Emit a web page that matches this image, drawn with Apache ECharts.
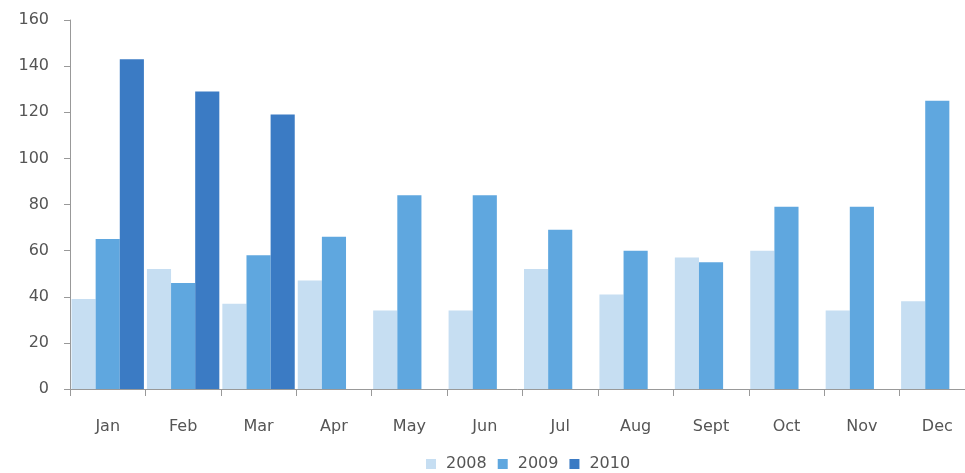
<!DOCTYPE html>
<html>
<head>
<meta charset="utf-8">
<script src="https://cdn.jsdelivr.net/npm/echarts@6/dist/echarts.min.js"></script>
<style>
html,body{margin:0;padding:0;background:#fff;}
#chart{width:965px;height:473px;}
</style>
</head>
<body>
<div id="chart"></div>
<script>
const categories = ['Jan','Feb','Mar','Apr','May','Jun','Jul','Aug','Sept','Oct','Nov','Dec'];
const seriesNames = ['2008','2009','2010'];
const values2008 = [39, 52, 37, 47, 34, 34, 52, 41, 57, 60, 34, 38];
const values2009 = [65, 46, 58, 66, 84, 84, 69, 60, 55, 79, 79, 125];
const values2010 = [143, 129, 119, null, null, null, null, null, null, null, null, null];
const yTicks = {min: 0, max: 160, interval: 20};
const colors = ['#c6def2', '#5fa7df', '#3b7bc4'];

const chart = echarts.init(document.getElementById('chart'));
const font = '"DejaVu Sans", sans-serif';
chart.setOption({
  animation: false,
  backgroundColor: '#ffffff',
  grid: {left: 70, width: 905, top: 20, bottom: 84, containLabel: false, outerBoundsMode: 'none'},
  legend: {
    data: seriesNames,
    top: 451,
    left: 421,
    itemWidth: 10,
    itemHeight: 10,
    itemGap: 11,
    icon: 'rect',
    textStyle: {fontFamily: font, fontSize: 16, color: '#555', padding: [0, 0, 0, 5]}
  },
  xAxis: {
    type: 'category',
    data: categories,
    boundaryGap: true,
    axisLine: {lineStyle: {color: '#999', width: 1}},
    axisTick: {show: true, length: 7, lineStyle: {color: '#999'}},
    axisLabel: {fontFamily: font, fontSize: 16, color: '#555', margin: 30}
  },
  yAxis: {
    type: 'value',
    min: yTicks.min, max: yTicks.max, interval: yTicks.interval,
    axisLine: {show: true, lineStyle: {color: '#999', width: 1}},
    axisTick: {show: true, length: 6, lineStyle: {color: '#999'}},
    splitLine: {show: false},
    axisLabel: {fontFamily: font, fontSize: 16, color: '#555', margin: 21}
  },
  series: [
    {name: seriesNames[0], type: 'bar', data: values2008, itemStyle: {color: colors[0]}, barGap: '0%', barCategoryGap: '4%'},
    {name: seriesNames[1], type: 'bar', data: values2009, itemStyle: {color: colors[1]}, barGap: '0%', barCategoryGap: '4%'},
    {name: seriesNames[2], type: 'bar', data: values2010, itemStyle: {color: colors[2]}, barGap: '0%', barCategoryGap: '4%'}
  ]
});
</script>
</body>
</html>
